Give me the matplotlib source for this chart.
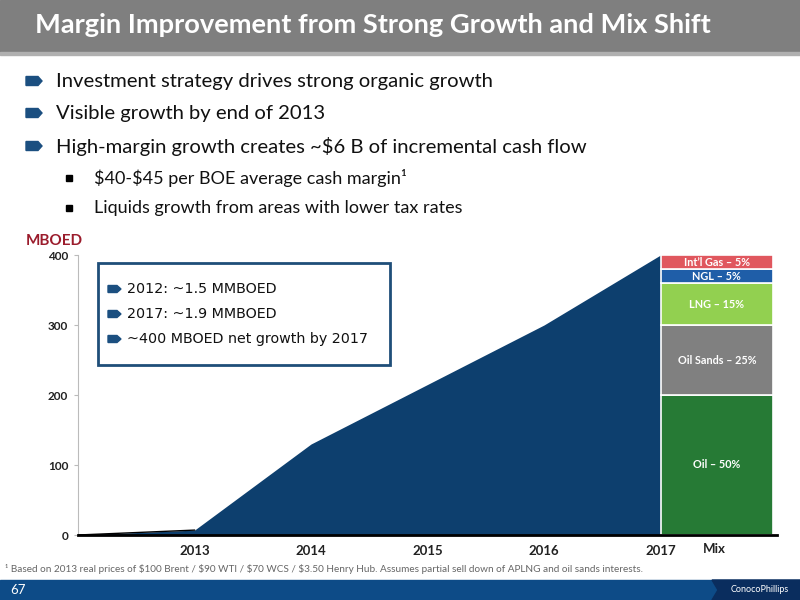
import matplotlib
matplotlib.use("Agg")
import matplotlib.pyplot as plt
from matplotlib.patches import Rectangle, Polygon
import numpy as np

# ── data ──────────────────────────────────────────────────────────────
years = [2012, 2013, 2014, 2015, 2016, 2017]
growth = [0, 7, 130, 215, 300, 400]          # MBOED net growth
tick_years = [2013, 2014, 2015, 2016, 2017]

mix_labels = ["Oil – 50%", "Oil Sands – 25%", "LNG – 15%", "NGL – 5%", "Int’l Gas – 5%"]
mix_values = [200, 100, 60, 20, 20]
mix_colors = ["#267a35", "#808080", "#92d050", "#1f5ea8", "#e0575e"]

bullets = [
    "Investment strategy drives strong organic growth",
    "Visible growth by end of 2013",
    r"High-margin growth creates ~\$6 B of incremental cash flow",
]
sub_bullets = [
    r"\$40-\$45 per BOE average cash margin¹",
    "Liquids growth from areas with lower tax rates",
]
box_lines = [
    "2012: ~1.5 MMBOED",
    "2017: ~1.9 MMBOED",
    "~400 MBOED net growth by 2017",
]
footnote = (r"¹ Based on 2013 real prices of \$100 Brent / \$90 WTI / \$70 WCS / \$3.50 Henry Hub. "
            "Assumes partial sell down of APLNG and oil sands interests.")

FONT = "Lato"
NAVY = "#0d3f6e"
BULLET = "#1b4f80"

W, H = 800, 600
fig = plt.figure(figsize=(8, 6), dpi=100)


def fx(px):
    return px / W


def fy(py):
    return 1 - py / H


def arrow_bullet(x, y, w, h, color=BULLET, z=5):
    pts = [(x, y - h / 2), (x + w - 4, y - h / 2), (x + w, y),
           (x + w - 4, y + h / 2), (x, y + h / 2)]
    fig.patches.append(Polygon([(fx(a), fy(b)) for a, b in pts], closed=True,
                               transform=fig.transFigure, color=color, zorder=z))


# ── title bar ─────────────────────────────────────────────────────────
fig.patches.append(Rectangle((0, fy(52)), 1, 52 / H, transform=fig.transFigure,
                             color="#7f7f7f", zorder=0))
fig.patches.append(Rectangle((0, fy(55)), 1, 3 / H, transform=fig.transFigure,
                             color="#b0b0b0", zorder=0))
fig.text(fx(35), fy(25), "Margin Improvement from Strong Growth and Mix Shift",
         family=FONT, fontsize=19.6, fontweight="bold", color="white", va="center")

# ── bullets ───────────────────────────────────────────────────────────
for i, txt in enumerate(bullets):
    y = [81, 113, 146][i]
    arrow_bullet(26, y, 16, 9)
    fig.text(fx(56), fy(y), txt, family=FONT, fontsize=14.6, color="#111111", va="center")

for i, txt in enumerate(sub_bullets):
    y = [178, 208][i]
    fig.patches.append(Rectangle((fx(66), fy(y + 3)), 6 / W, 6 / H,
                                 transform=fig.transFigure, color="black"))
    fig.text(fx(94), fy(y), txt, family=FONT, fontsize=13, color="#111111", va="center")

# ── chart ─────────────────────────────────────────────────────────────
ax = fig.add_axes([fx(78), fy(535), 699 / W, 280 / H])
ax.fill_between(years, growth, 0, color=NAVY, lw=0, zorder=2)
ax.plot(years[:2], growth[:2], color="black", lw=1, zorder=3)

bottom = 0
for lab, val, col in zip(mix_labels, mix_values, mix_colors):
    ax.bar(2017.0, val, width=0.966, bottom=bottom, align="edge", color=col,
           edgecolor="white", linewidth=1.2, zorder=3)
    ax.text(2017.483, bottom + val / 2, lab, ha="center", va="center",
            family=FONT, fontsize=7.8, fontweight="bold", color="white", zorder=4)
    bottom += val

ax.set_xlim(2012, 2018)
ax.set_ylim(0, 400)
ax.set_yticks([0, 100, 200, 300, 400])
ax.set_xticks(tick_years)
ax.set_xticklabels([str(y) for y in tick_years])
ax.tick_params(axis="x", length=0, pad=7, labelsize=9.5, labelcolor="#222222")
ax.tick_params(axis="y", length=3, color="#bbbbbb", pad=4, labelsize=8.5, labelcolor="#222222")
for lab in ax.get_xticklabels() + ax.get_yticklabels():
    lab.set_family(FONT)
    lab.set_fontweight("bold")
for s in ["top", "right"]:
    ax.spines[s].set_visible(False)
ax.spines["left"].set_color("#bbbbbb")
ax.spines["bottom"].set_color("black")
ax.spines["bottom"].set_linewidth(2)
ax.spines["bottom"].set_zorder(5)
ax.set_facecolor("none")

fig.text(fx(714), fy(549), "Mix", family=FONT, fontsize=9.5, fontweight="bold",
         color="#222222", ha="center", va="center")
fig.text(fx(26), fy(241), "MBOED", family=FONT, fontsize=11, fontweight="bold",
         color="#9b1c2c", va="center")

# info box
fig.patches.append(Rectangle((fx(98), fy(365)), 292 / W, 102 / H,
                             transform=fig.transFigure, facecolor="white",
                             edgecolor="#1f4e79", linewidth=2, zorder=6))
for i, txt in enumerate(box_lines):
    y = [289, 314, 339][i]
    arrow_bullet(108, y, 13, 7, z=7)
    fig.text(fx(127), fy(y), txt, family="DejaVu Sans", fontsize=10.3,
             color="#111111", va="center", zorder=7)

# ── footnote & footer ─────────────────────────────────────────────────
fig.text(fx(5), fy(569), footnote, family=FONT, fontsize=7.2, color="#666666", va="center")

fig.patches.append(Rectangle((0, 0), 1, 20 / H, transform=fig.transFigure,
                             color="#0d4b87", zorder=1))
grad = np.linspace(0, 1, 120).reshape(1, -1)
gax = fig.add_axes([fx(600), 0, 115 / W, 20 / H])
gax.imshow(grad, aspect="auto", cmap=matplotlib.colors.LinearSegmentedColormap.from_list(
    "g", ["#0d4b87", "#8fb8e0"]), extent=[0, 1, 0, 1])
gax.axis("off")
fig.patches.append(Polygon([(fx(712), 0), (1, 0), (1, fy(580)), (fx(712), fy(580)),
                            (fx(718), fy(590))], closed=True, transform=fig.transFigure,
                           color="#0a2d5e", zorder=2))
fig.text(fx(10), fy(590), "67", family=FONT, fontsize=9.5, color="white", va="center")
fig.text(fx(760), fy(590), "ConocoPhillips", family=FONT, fontsize=6.5, color="white",
         ha="center", va="center", zorder=3)

fig.savefig("out.png", dpi=100)
